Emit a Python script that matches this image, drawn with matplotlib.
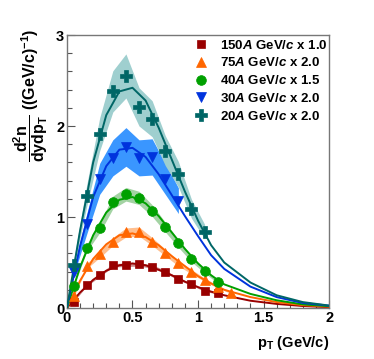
import numpy as np
import matplotlib
matplotlib.use("Agg")
import matplotlib.pyplot as plt

plt.rcParams['font.family'] = ['Liberation Sans', 'DejaVu Sans']
plt.rcParams['font.weight'] = 'bold'
plt.rcParams['mathtext.fontset'] = 'custom'
plt.rcParams['mathtext.rm'] = 'Liberation Sans:bold'
plt.rcParams['mathtext.bf'] = 'Liberation Sans:bold'
plt.rcParams['mathtext.it'] = 'Liberation Sans:bold:italic'
plt.rcParams['mathtext.default'] = 'bf'

# ---- data ----
pt_bins = [0.05, 0.15, 0.25, 0.35, 0.45, 0.55, 0.65, 0.75, 0.85, 0.95, 1.05, 1.15, 1.25]

y150 = [0.07, 0.25, 0.36, 0.47, 0.475, 0.48, 0.455, 0.40, 0.32, 0.26, 0.19, 0.16]
y75 = [0.13, 0.46, 0.59, 0.73, 0.83, 0.84, 0.73, 0.61, 0.49, 0.40, 0.31, 0.235, 0.17]
y40 = [0.24, 0.66, 0.88, 1.16, 1.25, 1.21, 1.07, 0.89, 0.71, 0.54, 0.41, 0.29]
y30 = [0.40, 0.92, 1.42, 1.65, 1.77, 1.65, 1.66, 1.42, 1.18]
y20 = [0.47, 1.23, 1.91, 2.38, 2.55, 2.21, 2.08, 1.73, 1.47, 1.09, 0.84]

# relative systematic band widths
rel_err = [0.04, 0.06, 0.06, 0.12, 0.095]

# fit curves, read at knots
fit_pt = [0, 0.1, 0.2, 0.3, 0.4, 0.5, 0.6, 0.7, 0.8, 0.9, 1.0, 1.1, 1.2, 1.4, 1.6, 1.8, 2.0]
fit150 = [0, 0.17, 0.31, 0.41, 0.47, 0.49, 0.47, 0.42, 0.36, 0.29, 0.23, 0.18, 0.14, 0.08, 0.045, 0.022, 0.01]
fit75 = [0, 0.30, 0.54, 0.70, 0.80, 0.82, 0.78, 0.69, 0.57, 0.46, 0.35, 0.27, 0.20, 0.12, 0.065, 0.032, 0.015]
fit40 = [0, 0.45, 0.80, 1.05, 1.19, 1.22, 1.15, 1.01, 0.83, 0.65, 0.49, 0.36, 0.26, 0.155, 0.085, 0.04, 0.02]
fit30 = [0, 0.68, 1.22, 1.56, 1.74, 1.76, 1.66, 1.47, 1.24, 1.01, 0.79, 0.58, 0.43, 0.235, 0.12, 0.055, 0.026]
fit20 = [0, 0.85, 1.60, 2.12, 2.38, 2.42, 2.28, 1.98, 1.63, 1.28, 0.96, 0.69, 0.50, 0.28, 0.14, 0.065, 0.027]

labels = [r'150$\mathit{A}$ GeV/$\mathit{c}$ x 1.0',
          r'75$\mathit{A}$ GeV/$\mathit{c}$ x 2.0',
          r'40$\mathit{A}$ GeV/$\mathit{c}$ x 1.5',
          r'30$\mathit{A}$ GeV/$\mathit{c}$ x 2.0',
          r'20$\mathit{A}$ GeV/$\mathit{c}$ x 2.0']

colors = ['#990000', '#ff6600', '#00a000', '#0033dd', '#006666']
band_colors = ['#cc8a8a', '#ffbf8f', '#a3d3a3', '#3a96ff', '#9fcfcf']
markers = ['s', '^', 'o', 'v', 'P']
msizes = [6.0, 7.0, 7.0, 7.0, 8.0]

series = [y150, y75, y40, y30, y20]
fits = [fit150, fit75, fit40, fit30, fit20]

fig = plt.figure(figsize=(3.74, 3.59), dpi=100)
ax = fig.add_axes([0.179, 0.142, 0.701, 0.7605])

handles = []
for i in range(5):
    y = np.array(series[i])
    x = np.array(pt_bins[:len(y)])
    err = y * rel_err[i]
    ax.fill_between(x, y - err, y + err, color=band_colors[i], lw=0, zorder=1 + i * 0.1)
for i in range(5):
    ax.plot(fit_pt, fits[i], color=colors[i], lw=1.4, zorder=3)
for i in range(5):
    y = np.array(series[i])
    x = np.array(pt_bins[:len(y)])
    h, = ax.plot(x, y, ls='none', marker=markers[i], ms=msizes[i], color=colors[i],
                 mec=colors[i], mew=0.5, zorder=4, label=labels[i])
    handles.append(h)

ax.set_xlim(0, 2)
ax.set_ylim(0, 3)
ax.set_xticks([0, 0.5, 1, 1.5, 2])
ax.set_xticklabels(['0', '0.5', '1', '1.5', '2'])
ax.set_yticks([0, 1, 2, 3])
ax.set_yticklabels(['0', '1', '2', '3'])
ax.set_xticks(np.arange(0, 2.0001, 0.1), minor=True)
ax.set_yticks(np.arange(0, 3.0001, 0.2), minor=True)
ax.tick_params(which='both', direction='in', top=False, right=False, labelsize=10.5,
               color='#555555')
ax.tick_params(which='major', length=6, width=0.8, pad=2)
ax.tick_params(which='minor', length=3.5, width=0.8)
for lab in ax.get_xticklabels() + ax.get_yticklabels():
    lab.set_fontweight('bold')
for s in ax.spines.values():
    s.set_color('#777777')
    s.set_linewidth(1.0)

ax.text(1.0, -0.095, r'p$_{\mathbf{T}}$ (GeV/c)', transform=ax.transAxes, ha='right', va='top',
        fontsize=10.5, fontweight='bold')
ax.text(-0.14, 1.025, r'$\dfrac{\mathbf{d^{2}n}}{\mathbf{dydp_{T}}}$ ((GeV/c)$^{\mathbf{-1}}$)',
        transform=ax.transAxes, rotation=90, ha='center', va='top', fontsize=11.5,
        fontweight='bold')

leg = ax.legend(handles=handles, loc='upper right', bbox_to_anchor=(1.025, 1.018),
                frameon=False, fontsize=9.5, handlelength=1.0, handletextpad=0.9,
                labelspacing=0.36, borderaxespad=0.25, numpoints=1)
for t in leg.get_texts():
    t.set_fontweight('bold')

fig.savefig('out.png', dpi=100)
